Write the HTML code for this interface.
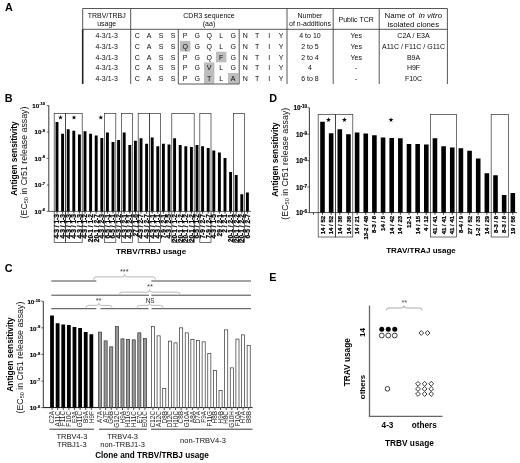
<!DOCTYPE html>
<html lang="en">
<head>
<meta charset="utf-8">
<title>Figure</title>
<style>
html,body{margin:0;padding:0;background:#fff;}
body{width:520px;height:463px;overflow:hidden;}
svg{display:block;font-family:"Liberation Sans", sans-serif;filter:blur(0.3px);}
</style>
</head>
<body>
<svg width="520" height="463" viewBox="0 0 520 463">
<rect x="0" y="0" width="520" height="463" fill="#fff"/>
<text x="4.9" y="10.8" font-size="10.8" font-weight="bold" text-anchor="start" fill="#000">A</text>
<text x="4.8" y="101.6" font-size="10.8" font-weight="bold" text-anchor="start" fill="#000">B</text>
<text x="4.7" y="271.5" font-size="10.8" font-weight="bold" text-anchor="start" fill="#000">C</text>
<text x="269.2" y="101.6" font-size="10.8" font-weight="bold" text-anchor="start" fill="#000">D</text>
<text x="269.2" y="280.9" font-size="10.8" font-weight="bold" text-anchor="start" fill="#000">E</text>
<line x1="82.7" y1="8.5" x2="447.4" y2="8.5" stroke="#444" stroke-width="0.9"/>
<line x1="82.7" y1="29.3" x2="447.4" y2="29.3" stroke="#444" stroke-width="0.9"/>
<line x1="82.7" y1="8.5" x2="82.7" y2="29.3" stroke="#444" stroke-width="0.9"/>
<line x1="82.7" y1="29.3" x2="82.7" y2="84" stroke="#222" stroke-width="1.6"/>
<line x1="447.4" y1="8.5" x2="447.4" y2="84" stroke="#444" stroke-width="0.9"/>
<line x1="130.7" y1="8.5" x2="130.7" y2="84" stroke="#444" stroke-width="0.9"/>
<line x1="287" y1="8.5" x2="287" y2="84" stroke="#444" stroke-width="0.9"/>
<line x1="333.2" y1="8.5" x2="333.2" y2="84" stroke="#444" stroke-width="0.9"/>
<line x1="379.2" y1="8.5" x2="379.2" y2="84" stroke="#444" stroke-width="0.9"/>
<text x="106.7" y="18" font-size="7" text-anchor="middle" fill="#0a0a0a">TRBV/TRBJ</text>
<text x="106.7" y="26.3" font-size="7" text-anchor="middle" fill="#0a0a0a">usage</text>
<text x="209" y="18" font-size="7" text-anchor="middle" fill="#0a0a0a">CDR3 sequence</text>
<text x="209" y="26.3" font-size="7" text-anchor="middle" fill="#0a0a0a">(aa)</text>
<text x="310" y="18" font-size="7" text-anchor="middle" fill="#0a0a0a">Number</text>
<text x="310" y="26.3" font-size="7" text-anchor="middle" fill="#0a0a0a">of n-additions</text>
<text x="356.2" y="21.5" font-size="7" text-anchor="middle" fill="#0a0a0a">Public TCR</text>
<text x="413.3" y="18" font-size="7.9" text-anchor="middle" fill="#0a0a0a" xml:space="preserve">Name of  <tspan font-style="italic">in vitro</tspan></text>
<text x="413.3" y="26.5" font-size="7.8" text-anchor="middle" fill="#0a0a0a">isolated clones</text>
<rect x="180.00" y="40.90" width="10.40" height="10.70" fill="#bdbdbd" stroke="none" stroke-width="0.7"/>
<rect x="216.00" y="51.70" width="10.40" height="10.70" fill="#bdbdbd" stroke="none" stroke-width="0.7"/>
<rect x="204.00" y="62.40" width="10.40" height="10.70" fill="#bdbdbd" stroke="none" stroke-width="0.7"/>
<rect x="204.00" y="73.00" width="10.40" height="10.70" fill="#bdbdbd" stroke="none" stroke-width="0.7"/>
<rect x="228.00" y="73.00" width="10.40" height="10.70" fill="#bdbdbd" stroke="none" stroke-width="0.7"/>
<line x1="178.3" y1="29.3" x2="178.3" y2="84" stroke="#444" stroke-width="0.9"/>
<line x1="239.2" y1="29.3" x2="239.2" y2="84" stroke="#444" stroke-width="0.9"/>
<line x1="178.3" y1="84" x2="239.2" y2="84" stroke="#444" stroke-width="0.9"/>
<text x="106.7" y="38.0" font-size="7" text-anchor="middle" fill="#0a0a0a">4-3/1-3</text>
<text x="137.2" y="38.0" font-size="7" text-anchor="middle" fill="#0a0a0a">C</text>
<text x="149.2" y="38.0" font-size="7" text-anchor="middle" fill="#0a0a0a">A</text>
<text x="161.2" y="38.0" font-size="7" text-anchor="middle" fill="#0a0a0a">S</text>
<text x="173.2" y="38.0" font-size="7" text-anchor="middle" fill="#0a0a0a">S</text>
<text x="185.2" y="38.0" font-size="7" text-anchor="middle" fill="#0a0a0a">P</text>
<text x="197.2" y="38.0" font-size="7" text-anchor="middle" fill="#0a0a0a">G</text>
<text x="209.2" y="38.0" font-size="7" text-anchor="middle" fill="#0a0a0a">Q</text>
<text x="221.2" y="38.0" font-size="7" text-anchor="middle" fill="#0a0a0a">L</text>
<text x="233.2" y="38.0" font-size="7" text-anchor="middle" fill="#0a0a0a">G</text>
<text x="245.2" y="38.0" font-size="7" text-anchor="middle" fill="#0a0a0a">N</text>
<text x="257.2" y="38.0" font-size="7" text-anchor="middle" fill="#0a0a0a">T</text>
<text x="269.2" y="38.0" font-size="7" text-anchor="middle" fill="#0a0a0a">I</text>
<text x="281.2" y="38.0" font-size="7" text-anchor="middle" fill="#0a0a0a">Y</text>
<text x="310" y="38.0" font-size="7" text-anchor="middle" fill="#0a0a0a">4 to 10</text>
<text x="356.2" y="38.0" font-size="7" text-anchor="middle" fill="#0a0a0a">Yes</text>
<text x="413.5" y="38.0" font-size="7" text-anchor="middle" fill="#0a0a0a">C2A / E3A</text>
<text x="106.7" y="48.7" font-size="7" text-anchor="middle" fill="#0a0a0a">4-3/1-3</text>
<text x="137.2" y="48.7" font-size="7" text-anchor="middle" fill="#0a0a0a">C</text>
<text x="149.2" y="48.7" font-size="7" text-anchor="middle" fill="#0a0a0a">A</text>
<text x="161.2" y="48.7" font-size="7" text-anchor="middle" fill="#0a0a0a">S</text>
<text x="173.2" y="48.7" font-size="7" text-anchor="middle" fill="#0a0a0a">S</text>
<text x="185.2" y="48.7" font-size="7" text-anchor="middle" fill="#0a0a0a">Q</text>
<text x="197.2" y="48.7" font-size="7" text-anchor="middle" fill="#0a0a0a">G</text>
<text x="209.2" y="48.7" font-size="7" text-anchor="middle" fill="#0a0a0a">Q</text>
<text x="221.2" y="48.7" font-size="7" text-anchor="middle" fill="#0a0a0a">L</text>
<text x="233.2" y="48.7" font-size="7" text-anchor="middle" fill="#0a0a0a">G</text>
<text x="245.2" y="48.7" font-size="7" text-anchor="middle" fill="#0a0a0a">N</text>
<text x="257.2" y="48.7" font-size="7" text-anchor="middle" fill="#0a0a0a">T</text>
<text x="269.2" y="48.7" font-size="7" text-anchor="middle" fill="#0a0a0a">I</text>
<text x="281.2" y="48.7" font-size="7" text-anchor="middle" fill="#0a0a0a">Y</text>
<text x="310" y="48.7" font-size="7" text-anchor="middle" fill="#0a0a0a">2 to 5</text>
<text x="356.2" y="48.7" font-size="7" text-anchor="middle" fill="#0a0a0a">Yes</text>
<text x="413.5" y="48.7" font-size="7" text-anchor="middle" fill="#0a0a0a">A11C / F11C / G11C</text>
<text x="106.7" y="59.5" font-size="7" text-anchor="middle" fill="#0a0a0a">4-3/1-3</text>
<text x="137.2" y="59.5" font-size="7" text-anchor="middle" fill="#0a0a0a">C</text>
<text x="149.2" y="59.5" font-size="7" text-anchor="middle" fill="#0a0a0a">A</text>
<text x="161.2" y="59.5" font-size="7" text-anchor="middle" fill="#0a0a0a">S</text>
<text x="173.2" y="59.5" font-size="7" text-anchor="middle" fill="#0a0a0a">S</text>
<text x="185.2" y="59.5" font-size="7" text-anchor="middle" fill="#0a0a0a">P</text>
<text x="197.2" y="59.5" font-size="7" text-anchor="middle" fill="#0a0a0a">G</text>
<text x="209.2" y="59.5" font-size="7" text-anchor="middle" fill="#0a0a0a">Q</text>
<text x="221.2" y="59.5" font-size="7" text-anchor="middle" fill="#0a0a0a">F</text>
<text x="233.2" y="59.5" font-size="7" text-anchor="middle" fill="#0a0a0a">G</text>
<text x="245.2" y="59.5" font-size="7" text-anchor="middle" fill="#0a0a0a">N</text>
<text x="257.2" y="59.5" font-size="7" text-anchor="middle" fill="#0a0a0a">T</text>
<text x="269.2" y="59.5" font-size="7" text-anchor="middle" fill="#0a0a0a">I</text>
<text x="281.2" y="59.5" font-size="7" text-anchor="middle" fill="#0a0a0a">Y</text>
<text x="310" y="59.5" font-size="7" text-anchor="middle" fill="#0a0a0a">2 to 4</text>
<text x="356.2" y="59.5" font-size="7" text-anchor="middle" fill="#0a0a0a">Yes</text>
<text x="413.5" y="59.5" font-size="7" text-anchor="middle" fill="#0a0a0a">B9A</text>
<text x="106.7" y="70.2" font-size="7" text-anchor="middle" fill="#0a0a0a">4-3/1-3</text>
<text x="137.2" y="70.2" font-size="7" text-anchor="middle" fill="#0a0a0a">C</text>
<text x="149.2" y="70.2" font-size="7" text-anchor="middle" fill="#0a0a0a">A</text>
<text x="161.2" y="70.2" font-size="7" text-anchor="middle" fill="#0a0a0a">S</text>
<text x="173.2" y="70.2" font-size="7" text-anchor="middle" fill="#0a0a0a">S</text>
<text x="185.2" y="70.2" font-size="7" text-anchor="middle" fill="#0a0a0a">P</text>
<text x="197.2" y="70.2" font-size="7" text-anchor="middle" fill="#0a0a0a">G</text>
<text x="209.2" y="70.2" font-size="7" text-anchor="middle" fill="#0a0a0a">V</text>
<text x="221.2" y="70.2" font-size="7" text-anchor="middle" fill="#0a0a0a">L</text>
<text x="233.2" y="70.2" font-size="7" text-anchor="middle" fill="#0a0a0a">G</text>
<text x="245.2" y="70.2" font-size="7" text-anchor="middle" fill="#0a0a0a">N</text>
<text x="257.2" y="70.2" font-size="7" text-anchor="middle" fill="#0a0a0a">T</text>
<text x="269.2" y="70.2" font-size="7" text-anchor="middle" fill="#0a0a0a">I</text>
<text x="281.2" y="70.2" font-size="7" text-anchor="middle" fill="#0a0a0a">Y</text>
<text x="310" y="70.2" font-size="7" text-anchor="middle" fill="#0a0a0a">4</text>
<text x="356.2" y="70.2" font-size="7" text-anchor="middle" fill="#0a0a0a">-</text>
<text x="413.5" y="70.2" font-size="7" text-anchor="middle" fill="#0a0a0a">H9F</text>
<text x="106.7" y="80.8" font-size="7" text-anchor="middle" fill="#0a0a0a">4-3/1-3</text>
<text x="137.2" y="80.8" font-size="7" text-anchor="middle" fill="#0a0a0a">C</text>
<text x="149.2" y="80.8" font-size="7" text-anchor="middle" fill="#0a0a0a">A</text>
<text x="161.2" y="80.8" font-size="7" text-anchor="middle" fill="#0a0a0a">S</text>
<text x="173.2" y="80.8" font-size="7" text-anchor="middle" fill="#0a0a0a">S</text>
<text x="185.2" y="80.8" font-size="7" text-anchor="middle" fill="#0a0a0a">P</text>
<text x="197.2" y="80.8" font-size="7" text-anchor="middle" fill="#0a0a0a">G</text>
<text x="209.2" y="80.8" font-size="7" text-anchor="middle" fill="#0a0a0a">T</text>
<text x="221.2" y="80.8" font-size="7" text-anchor="middle" fill="#0a0a0a">L</text>
<text x="233.2" y="80.8" font-size="7" text-anchor="middle" fill="#0a0a0a">A</text>
<text x="245.2" y="80.8" font-size="7" text-anchor="middle" fill="#0a0a0a">N</text>
<text x="257.2" y="80.8" font-size="7" text-anchor="middle" fill="#0a0a0a">T</text>
<text x="269.2" y="80.8" font-size="7" text-anchor="middle" fill="#0a0a0a">I</text>
<text x="281.2" y="80.8" font-size="7" text-anchor="middle" fill="#0a0a0a">Y</text>
<text x="310" y="80.8" font-size="7" text-anchor="middle" fill="#0a0a0a">6 to 8</text>
<text x="356.2" y="80.8" font-size="7" text-anchor="middle" fill="#0a0a0a">-</text>
<text x="413.5" y="80.8" font-size="7" text-anchor="middle" fill="#0a0a0a">F10C</text>
<text x="17.4" y="158.5" font-size="8.4" font-weight="bold" text-anchor="middle" fill="#000" transform="rotate(-90 17.4 158.5)">Antigen sensitivity</text>
<text x="27.4" y="162.5" font-size="8.8" text-anchor="middle" fill="#111" transform="rotate(-90 27.4 162.5)">(EC<tspan font-size="5.6" dy="1">50</tspan><tspan dy="-1"> in Cr51 release assay)</tspan></text>
<text x="45.1" y="107.73" font-size="6.2" font-weight="bold" text-anchor="end" fill="#000" stroke="#000" stroke-width="0.15">10<tspan font-size="4.1" dy="-2.4">-10</tspan></text>
<text x="45.1" y="134.23" font-size="6.2" font-weight="bold" text-anchor="end" fill="#000" stroke="#000" stroke-width="0.15">10<tspan font-size="4.1" dy="-2.4">-9</tspan></text>
<text x="45.1" y="160.63" font-size="6.2" font-weight="bold" text-anchor="end" fill="#000" stroke="#000" stroke-width="0.15">10<tspan font-size="4.1" dy="-2.4">-8</tspan></text>
<text x="45.1" y="187.23" font-size="6.2" font-weight="bold" text-anchor="end" fill="#000" stroke="#000" stroke-width="0.15">10<tspan font-size="4.1" dy="-2.4">-7</tspan></text>
<text x="45.1" y="213.63" font-size="6.2" font-weight="bold" text-anchor="end" fill="#000" stroke="#000" stroke-width="0.15">10<tspan font-size="4.1" dy="-2.4">-6</tspan></text>
<line x1="48.8" y1="105.5" x2="48.8" y2="211.4" stroke="#222" stroke-width="0.9"/>
<line x1="48.8" y1="211.4" x2="251" y2="211.4" stroke="#222" stroke-width="0.7"/>
<line x1="46.8" y1="105.5" x2="48.8" y2="105.5" stroke="#222" stroke-width="0.7"/>
<line x1="46.8" y1="132" x2="48.8" y2="132" stroke="#222" stroke-width="0.7"/>
<line x1="46.8" y1="158.4" x2="48.8" y2="158.4" stroke="#222" stroke-width="0.7"/>
<line x1="46.8" y1="185" x2="48.8" y2="185" stroke="#222" stroke-width="0.7"/>
<line x1="46.8" y1="211.4" x2="48.8" y2="211.4" stroke="#222" stroke-width="0.7"/>
<rect x="54.20" y="113.60" width="11.20" height="128.90" fill="none" stroke="#333" stroke-width="0.7"/>
<rect x="65.40" y="113.60" width="16.80" height="128.90" fill="none" stroke="#333" stroke-width="0.7"/>
<rect x="104.60" y="113.60" width="11.20" height="128.90" fill="none" stroke="#333" stroke-width="0.7"/>
<rect x="121.40" y="113.60" width="11.20" height="128.90" fill="none" stroke="#333" stroke-width="0.7"/>
<rect x="138.20" y="113.60" width="11.20" height="128.90" fill="none" stroke="#333" stroke-width="0.7"/>
<rect x="149.40" y="113.60" width="11.20" height="128.90" fill="none" stroke="#333" stroke-width="0.7"/>
<rect x="171.80" y="113.60" width="22.40" height="128.90" fill="none" stroke="#333" stroke-width="0.7"/>
<rect x="199.80" y="113.60" width="11.20" height="128.90" fill="none" stroke="#333" stroke-width="0.7"/>
<rect x="233.40" y="113.60" width="11.20" height="128.90" fill="none" stroke="#333" stroke-width="0.7"/>
<rect x="55.55" y="122.00" width="2.90" height="89.40" fill="#000" stroke="none" stroke-width="0.7"/>
<rect x="61.15" y="133.75" width="2.90" height="77.65" fill="#000" stroke="none" stroke-width="0.7"/>
<rect x="66.75" y="129.25" width="2.90" height="82.15" fill="#000" stroke="none" stroke-width="0.7"/>
<rect x="72.35" y="130.75" width="2.90" height="80.65" fill="#000" stroke="none" stroke-width="0.7"/>
<rect x="77.95" y="134.50" width="2.90" height="76.90" fill="#000" stroke="none" stroke-width="0.7"/>
<rect x="83.55" y="131.25" width="2.90" height="80.15" fill="#000" stroke="none" stroke-width="0.7"/>
<rect x="89.15" y="133.75" width="2.90" height="77.65" fill="#000" stroke="none" stroke-width="0.7"/>
<rect x="94.75" y="135.50" width="2.90" height="75.90" fill="#000" stroke="none" stroke-width="0.7"/>
<rect x="100.35" y="138.00" width="2.90" height="73.40" fill="#000" stroke="none" stroke-width="0.7"/>
<rect x="105.95" y="132.50" width="2.90" height="78.90" fill="#000" stroke="none" stroke-width="0.7"/>
<rect x="111.55" y="142.00" width="2.90" height="69.40" fill="#000" stroke="none" stroke-width="0.7"/>
<rect x="117.15" y="140.00" width="2.90" height="71.40" fill="#000" stroke="none" stroke-width="0.7"/>
<rect x="122.75" y="132.50" width="2.90" height="78.90" fill="#000" stroke="none" stroke-width="0.7"/>
<rect x="128.35" y="145.00" width="2.90" height="66.40" fill="#000" stroke="none" stroke-width="0.7"/>
<rect x="133.95" y="140.75" width="2.90" height="70.65" fill="#000" stroke="none" stroke-width="0.7"/>
<rect x="139.55" y="138.25" width="2.90" height="73.15" fill="#000" stroke="none" stroke-width="0.7"/>
<rect x="145.15" y="143.75" width="2.90" height="67.65" fill="#000" stroke="none" stroke-width="0.7"/>
<rect x="150.75" y="137.50" width="2.90" height="73.90" fill="#000" stroke="none" stroke-width="0.7"/>
<rect x="156.35" y="146.25" width="2.90" height="65.15" fill="#000" stroke="none" stroke-width="0.7"/>
<rect x="161.95" y="143.75" width="2.90" height="67.65" fill="#000" stroke="none" stroke-width="0.7"/>
<rect x="167.55" y="144.50" width="2.90" height="66.90" fill="#000" stroke="none" stroke-width="0.7"/>
<rect x="173.15" y="138.25" width="2.90" height="73.15" fill="#000" stroke="none" stroke-width="0.7"/>
<rect x="178.75" y="145.00" width="2.90" height="66.40" fill="#000" stroke="none" stroke-width="0.7"/>
<rect x="184.35" y="146.25" width="2.90" height="65.15" fill="#000" stroke="none" stroke-width="0.7"/>
<rect x="189.95" y="147.00" width="2.90" height="64.40" fill="#000" stroke="none" stroke-width="0.7"/>
<rect x="195.55" y="145.00" width="2.90" height="66.40" fill="#000" stroke="none" stroke-width="0.7"/>
<rect x="201.15" y="146.25" width="2.90" height="65.15" fill="#000" stroke="none" stroke-width="0.7"/>
<rect x="206.75" y="148.00" width="2.90" height="63.40" fill="#000" stroke="none" stroke-width="0.7"/>
<rect x="212.35" y="150.50" width="2.90" height="60.90" fill="#000" stroke="none" stroke-width="0.7"/>
<rect x="217.95" y="152.50" width="2.90" height="58.90" fill="#000" stroke="none" stroke-width="0.7"/>
<rect x="223.55" y="158.00" width="2.90" height="53.40" fill="#000" stroke="none" stroke-width="0.7"/>
<rect x="229.15" y="172.00" width="2.90" height="39.40" fill="#000" stroke="none" stroke-width="0.7"/>
<rect x="234.75" y="175.00" width="2.90" height="36.40" fill="#000" stroke="none" stroke-width="0.7"/>
<rect x="240.35" y="194.25" width="2.90" height="17.15" fill="#000" stroke="none" stroke-width="0.7"/>
<rect x="245.95" y="192.50" width="2.90" height="18.90" fill="#000" stroke="none" stroke-width="0.7"/>
<line x1="57.0" y1="211.4" x2="57.0" y2="213.6" stroke="#111" stroke-width="0.8"/>
<text x="59.35" y="214.0" font-size="6.6" font-weight="bold" text-anchor="end" fill="#000" transform="rotate(-90 59.35 214.0)" stroke="#000" stroke-width="0.25">4-3 / 1-3</text>
<line x1="62.6" y1="211.4" x2="62.6" y2="213.6" stroke="#111" stroke-width="0.8"/>
<text x="64.95" y="214.0" font-size="6.6" font-weight="bold" text-anchor="end" fill="#000" transform="rotate(-90 64.95 214.0)" stroke="#000" stroke-width="0.25">4-3 / 1-3</text>
<line x1="68.2" y1="211.4" x2="68.2" y2="213.6" stroke="#111" stroke-width="0.8"/>
<text x="70.55" y="214.0" font-size="6.6" font-weight="bold" text-anchor="end" fill="#000" transform="rotate(-90 70.55 214.0)" stroke="#000" stroke-width="0.25">4-3 / 1-3</text>
<line x1="73.8" y1="211.4" x2="73.8" y2="213.6" stroke="#111" stroke-width="0.8"/>
<text x="76.15" y="214.0" font-size="6.6" font-weight="bold" text-anchor="end" fill="#000" transform="rotate(-90 76.15 214.0)" stroke="#000" stroke-width="0.25">4-3 / 1-3</text>
<line x1="79.4" y1="211.4" x2="79.4" y2="213.6" stroke="#111" stroke-width="0.8"/>
<text x="81.75" y="214.0" font-size="6.6" font-weight="bold" text-anchor="end" fill="#000" transform="rotate(-90 81.75 214.0)" stroke="#000" stroke-width="0.25">4-3 / 1-3</text>
<line x1="85.0" y1="211.4" x2="85.0" y2="213.6" stroke="#111" stroke-width="0.8"/>
<text x="87.35" y="214.0" font-size="6.6" font-weight="bold" text-anchor="end" fill="#000" transform="rotate(-90 87.35 214.0)" stroke="#000" stroke-width="0.25">4-3 / 1-2</text>
<line x1="90.6" y1="211.4" x2="90.6" y2="213.6" stroke="#111" stroke-width="0.8"/>
<text x="92.95" y="214.0" font-size="6.6" font-weight="bold" text-anchor="end" fill="#000" transform="rotate(-90 92.95 214.0)" stroke="#000" stroke-width="0.25">20-1 / 1-2</text>
<line x1="96.2" y1="211.4" x2="96.2" y2="213.6" stroke="#111" stroke-width="0.8"/>
<text x="98.55" y="214.0" font-size="6.6" font-weight="bold" text-anchor="end" fill="#000" transform="rotate(-90 98.55 214.0)" stroke="#000" stroke-width="0.25">20-1 / 2-7</text>
<line x1="101.8" y1="211.4" x2="101.8" y2="213.6" stroke="#111" stroke-width="0.8"/>
<text x="104.15" y="214.0" font-size="6.6" font-weight="bold" text-anchor="end" fill="#000" transform="rotate(-90 104.15 214.0)" stroke="#000" stroke-width="0.25">4-3 / 2-3</text>
<line x1="107.4" y1="211.4" x2="107.4" y2="213.6" stroke="#111" stroke-width="0.8"/>
<text x="109.75" y="214.0" font-size="6.6" font-weight="bold" text-anchor="end" fill="#000" transform="rotate(-90 109.75 214.0)" stroke="#000" stroke-width="0.25">6-5 / 1-1</text>
<line x1="113.0" y1="211.4" x2="113.0" y2="213.6" stroke="#111" stroke-width="0.8"/>
<text x="115.35" y="214.0" font-size="6.6" font-weight="bold" text-anchor="end" fill="#000" transform="rotate(-90 115.35 214.0)" stroke="#000" stroke-width="0.25">6-5 / 1-1</text>
<line x1="118.6" y1="211.4" x2="118.6" y2="213.6" stroke="#111" stroke-width="0.8"/>
<text x="120.95" y="214.0" font-size="6.6" font-weight="bold" text-anchor="end" fill="#000" transform="rotate(-90 120.95 214.0)" stroke="#000" stroke-width="0.25">4-3 / 1-2</text>
<line x1="124.2" y1="211.4" x2="124.2" y2="213.6" stroke="#111" stroke-width="0.8"/>
<text x="126.55" y="214.0" font-size="6.6" font-weight="bold" text-anchor="end" fill="#000" transform="rotate(-90 126.55 214.0)" stroke="#000" stroke-width="0.25">4-3 / 2-1</text>
<line x1="129.8" y1="211.4" x2="129.8" y2="213.6" stroke="#111" stroke-width="0.8"/>
<text x="132.15" y="214.0" font-size="6.6" font-weight="bold" text-anchor="end" fill="#000" transform="rotate(-90 132.15 214.0)" stroke="#000" stroke-width="0.25">4-3 / 2-1</text>
<line x1="135.4" y1="211.4" x2="135.4" y2="213.6" stroke="#111" stroke-width="0.8"/>
<text x="137.75" y="214.0" font-size="6.6" font-weight="bold" text-anchor="end" fill="#000" transform="rotate(-90 137.75 214.0)" stroke="#000" stroke-width="0.25">27 / 1-6</text>
<line x1="141.0" y1="211.4" x2="141.0" y2="213.6" stroke="#111" stroke-width="0.8"/>
<text x="143.35" y="214.0" font-size="6.6" font-weight="bold" text-anchor="end" fill="#000" transform="rotate(-90 143.35 214.0)" stroke="#000" stroke-width="0.25">4-3 / 2-7</text>
<line x1="146.6" y1="211.4" x2="146.6" y2="213.6" stroke="#111" stroke-width="0.8"/>
<text x="148.95" y="214.0" font-size="6.6" font-weight="bold" text-anchor="end" fill="#000" transform="rotate(-90 148.95 214.0)" stroke="#000" stroke-width="0.25">4-3 / 2-7</text>
<line x1="152.2" y1="211.4" x2="152.2" y2="213.6" stroke="#111" stroke-width="0.8"/>
<text x="154.55" y="214.0" font-size="6.6" font-weight="bold" text-anchor="end" fill="#000" transform="rotate(-90 154.55 214.0)" stroke="#000" stroke-width="0.25">4-3 / 1-1</text>
<line x1="157.8" y1="211.4" x2="157.8" y2="213.6" stroke="#111" stroke-width="0.8"/>
<text x="160.15" y="214.0" font-size="6.6" font-weight="bold" text-anchor="end" fill="#000" transform="rotate(-90 160.15 214.0)" stroke="#000" stroke-width="0.25">4-3 / 1-1</text>
<line x1="163.4" y1="211.4" x2="163.4" y2="213.6" stroke="#111" stroke-width="0.8"/>
<text x="165.75" y="214.0" font-size="6.6" font-weight="bold" text-anchor="end" fill="#000" transform="rotate(-90 165.75 214.0)" stroke="#000" stroke-width="0.25">7-9 / 2-1</text>
<line x1="169.0" y1="211.4" x2="169.0" y2="213.6" stroke="#111" stroke-width="0.8"/>
<text x="171.35" y="214.0" font-size="6.6" font-weight="bold" text-anchor="end" fill="#000" transform="rotate(-90 171.35 214.0)" stroke="#000" stroke-width="0.25">4-3 / 2-5</text>
<line x1="174.6" y1="211.4" x2="174.6" y2="213.6" stroke="#111" stroke-width="0.8"/>
<text x="176.95" y="214.0" font-size="6.6" font-weight="bold" text-anchor="end" fill="#000" transform="rotate(-90 176.95 214.0)" stroke="#000" stroke-width="0.25">20-1 / 1-2</text>
<line x1="180.2" y1="211.4" x2="180.2" y2="213.6" stroke="#111" stroke-width="0.8"/>
<text x="182.55" y="214.0" font-size="6.6" font-weight="bold" text-anchor="end" fill="#000" transform="rotate(-90 182.55 214.0)" stroke="#000" stroke-width="0.25">20-1 / 1-2</text>
<line x1="185.8" y1="211.4" x2="185.8" y2="213.6" stroke="#111" stroke-width="0.8"/>
<text x="188.15" y="214.0" font-size="6.6" font-weight="bold" text-anchor="end" fill="#000" transform="rotate(-90 188.15 214.0)" stroke="#000" stroke-width="0.25">20-1 / 1-2</text>
<line x1="191.4" y1="211.4" x2="191.4" y2="213.6" stroke="#111" stroke-width="0.8"/>
<text x="193.75" y="214.0" font-size="6.6" font-weight="bold" text-anchor="end" fill="#000" transform="rotate(-90 193.75 214.0)" stroke="#000" stroke-width="0.25">20-1 / 1-2</text>
<line x1="197.0" y1="211.4" x2="197.0" y2="213.6" stroke="#111" stroke-width="0.8"/>
<text x="199.35" y="214.0" font-size="6.6" font-weight="bold" text-anchor="end" fill="#000" transform="rotate(-90 199.35 214.0)" stroke="#000" stroke-width="0.25">6-5 / 1-2</text>
<line x1="202.6" y1="211.4" x2="202.6" y2="213.6" stroke="#111" stroke-width="0.8"/>
<text x="204.95" y="214.0" font-size="6.6" font-weight="bold" text-anchor="end" fill="#000" transform="rotate(-90 204.95 214.0)" stroke="#000" stroke-width="0.25">7-9 / 2-7</text>
<line x1="208.2" y1="211.4" x2="208.2" y2="213.6" stroke="#111" stroke-width="0.8"/>
<text x="210.55" y="214.0" font-size="6.6" font-weight="bold" text-anchor="end" fill="#000" transform="rotate(-90 210.55 214.0)" stroke="#000" stroke-width="0.25">7-9 / 2-7</text>
<line x1="213.8" y1="211.4" x2="213.8" y2="213.6" stroke="#111" stroke-width="0.8"/>
<text x="216.15" y="214.0" font-size="6.6" font-weight="bold" text-anchor="end" fill="#000" transform="rotate(-90 216.15 214.0)" stroke="#000" stroke-width="0.25">4-3 / 1-5</text>
<line x1="219.4" y1="211.4" x2="219.4" y2="213.6" stroke="#111" stroke-width="0.8"/>
<text x="221.75" y="214.0" font-size="6.6" font-weight="bold" text-anchor="end" fill="#000" transform="rotate(-90 221.75 214.0)" stroke="#000" stroke-width="0.25">29 / 2-1</text>
<line x1="225.0" y1="211.4" x2="225.0" y2="213.6" stroke="#111" stroke-width="0.8"/>
<text x="227.35" y="214.0" font-size="6.6" font-weight="bold" text-anchor="end" fill="#000" transform="rotate(-90 227.35 214.0)" stroke="#000" stroke-width="0.25">2 / 2-1</text>
<line x1="230.6" y1="211.4" x2="230.6" y2="213.6" stroke="#111" stroke-width="0.8"/>
<text x="232.95" y="214.0" font-size="6.6" font-weight="bold" text-anchor="end" fill="#000" transform="rotate(-90 232.95 214.0)" stroke="#000" stroke-width="0.25">20-1 / 2-1</text>
<line x1="236.2" y1="211.4" x2="236.2" y2="213.6" stroke="#111" stroke-width="0.8"/>
<text x="238.55" y="214.0" font-size="6.6" font-weight="bold" text-anchor="end" fill="#000" transform="rotate(-90 238.55 214.0)" stroke="#000" stroke-width="0.25">20-1 / 2-2</text>
<line x1="241.8" y1="211.4" x2="241.8" y2="213.6" stroke="#111" stroke-width="0.8"/>
<text x="244.15" y="214.0" font-size="6.6" font-weight="bold" text-anchor="end" fill="#000" transform="rotate(-90 244.15 214.0)" stroke="#000" stroke-width="0.25">20-1 / 2-2</text>
<line x1="247.4" y1="211.4" x2="247.4" y2="213.6" stroke="#111" stroke-width="0.8"/>
<text x="249.75" y="214.0" font-size="6.6" font-weight="bold" text-anchor="end" fill="#000" transform="rotate(-90 249.75 214.0)" stroke="#000" stroke-width="0.25">6-5 / 2-7</text>
<polygon points="60.50,114.95 61.09,116.69 62.93,116.71 61.45,117.81 62.00,119.56 60.50,118.50 59.00,119.56 59.55,117.81 58.07,116.71 59.91,116.69" fill="#000"/>
<polygon points="74.00,114.95 74.59,116.69 76.43,116.71 74.95,117.81 75.50,119.56 74.00,118.50 72.50,119.56 73.05,117.81 71.57,116.71 73.41,116.69" fill="#000"/>
<polygon points="100.80,114.95 101.39,116.69 103.23,116.71 101.75,117.81 102.30,119.56 100.80,118.50 99.30,119.56 99.85,117.81 98.37,116.71 100.21,116.69" fill="#000"/>
<text x="151" y="254" font-size="8" font-weight="bold" text-anchor="middle" fill="#000">TRBV/TRBJ usage</text>
<text x="278" y="159.5" font-size="8.4" font-weight="bold" text-anchor="middle" fill="#000" transform="rotate(-90 278 159.5)">Antigen sensitivity</text>
<text x="288.1" y="163.7" font-size="8.8" text-anchor="middle" fill="#111" transform="rotate(-90 288.1 163.7)">(EC<tspan font-size="5.6" dy="1">50</tspan><tspan dy="-1"> in Cr51 release assay)</tspan></text>
<text x="307.1" y="110.47" font-size="6.3" font-weight="bold" text-anchor="end" fill="#000" stroke="#000" stroke-width="0.15">10<tspan font-size="4.6" dy="-2.1">-10</tspan></text>
<text x="307.1" y="136.97" font-size="6.3" font-weight="bold" text-anchor="end" fill="#000" stroke="#000" stroke-width="0.15">10<tspan font-size="4.6" dy="-2.1">-9</tspan></text>
<text x="307.1" y="163.37" font-size="6.3" font-weight="bold" text-anchor="end" fill="#000" stroke="#000" stroke-width="0.15">10<tspan font-size="4.6" dy="-2.1">-8</tspan></text>
<text x="307.1" y="189.77" font-size="6.3" font-weight="bold" text-anchor="end" fill="#000" stroke="#000" stroke-width="0.15">10<tspan font-size="4.6" dy="-2.1">-7</tspan></text>
<text x="307.1" y="215.37" font-size="6.3" font-weight="bold" text-anchor="end" fill="#000" stroke="#000" stroke-width="0.15">10<tspan font-size="4.6" dy="-2.1">-6</tspan></text>
<line x1="309.4" y1="107.7" x2="309.4" y2="212.6" stroke="#222" stroke-width="0.9"/>
<line x1="309.4" y1="212.6" x2="517" y2="212.6" stroke="#222" stroke-width="0.8"/>
<line x1="313.5" y1="212.6" x2="313.5" y2="214.79999999999998" stroke="#222" stroke-width="0.8"/>
<line x1="307.4" y1="107.7" x2="309.4" y2="107.7" stroke="#222" stroke-width="0.7"/>
<line x1="307.4" y1="134.2" x2="309.4" y2="134.2" stroke="#222" stroke-width="0.7"/>
<line x1="307.4" y1="160.6" x2="309.4" y2="160.6" stroke="#222" stroke-width="0.7"/>
<line x1="307.4" y1="187" x2="309.4" y2="187" stroke="#222" stroke-width="0.7"/>
<line x1="307.4" y1="212.6" x2="309.4" y2="212.6" stroke="#222" stroke-width="0.7"/>
<rect x="318.18" y="114.50" width="17.30" height="122.50" fill="none" stroke="#333" stroke-width="0.7"/>
<rect x="335.48" y="114.50" width="17.30" height="122.50" fill="none" stroke="#333" stroke-width="0.7"/>
<rect x="430.62" y="114.50" width="25.95" height="122.50" fill="none" stroke="#333" stroke-width="0.7"/>
<rect x="491.18" y="114.50" width="17.30" height="122.50" fill="none" stroke="#333" stroke-width="0.7"/>
<rect x="320.20" y="121.75" width="4.60" height="90.85" fill="#000" stroke="none" stroke-width="0.7"/>
<rect x="328.85" y="133.25" width="4.60" height="79.35" fill="#000" stroke="none" stroke-width="0.7"/>
<rect x="337.50" y="129.25" width="4.60" height="83.35" fill="#000" stroke="none" stroke-width="0.7"/>
<rect x="346.15" y="134.25" width="4.60" height="78.35" fill="#000" stroke="none" stroke-width="0.7"/>
<rect x="354.80" y="132.50" width="4.60" height="80.10" fill="#000" stroke="none" stroke-width="0.7"/>
<rect x="363.45" y="133.50" width="4.60" height="79.10" fill="#000" stroke="none" stroke-width="0.7"/>
<rect x="372.10" y="135.25" width="4.60" height="77.35" fill="#000" stroke="none" stroke-width="0.7"/>
<rect x="380.75" y="137.50" width="4.60" height="75.10" fill="#000" stroke="none" stroke-width="0.7"/>
<rect x="389.40" y="138.00" width="4.60" height="74.60" fill="#000" stroke="none" stroke-width="0.7"/>
<rect x="398.05" y="138.25" width="4.60" height="74.35" fill="#000" stroke="none" stroke-width="0.7"/>
<rect x="406.70" y="144.00" width="4.60" height="68.60" fill="#000" stroke="none" stroke-width="0.7"/>
<rect x="415.35" y="144.00" width="4.60" height="68.60" fill="#000" stroke="none" stroke-width="0.7"/>
<rect x="424.00" y="144.50" width="4.60" height="68.10" fill="#000" stroke="none" stroke-width="0.7"/>
<rect x="432.65" y="138.25" width="4.60" height="74.35" fill="#000" stroke="none" stroke-width="0.7"/>
<rect x="441.30" y="146.25" width="4.60" height="66.35" fill="#000" stroke="none" stroke-width="0.7"/>
<rect x="449.95" y="147.50" width="4.60" height="65.10" fill="#000" stroke="none" stroke-width="0.7"/>
<rect x="458.60" y="148.25" width="4.60" height="64.35" fill="#000" stroke="none" stroke-width="0.7"/>
<rect x="467.25" y="150.75" width="4.60" height="61.85" fill="#000" stroke="none" stroke-width="0.7"/>
<rect x="475.90" y="158.50" width="4.60" height="54.10" fill="#000" stroke="none" stroke-width="0.7"/>
<rect x="484.55" y="173.25" width="4.60" height="39.35" fill="#000" stroke="none" stroke-width="0.7"/>
<rect x="493.20" y="175.25" width="4.60" height="37.35" fill="#000" stroke="none" stroke-width="0.7"/>
<rect x="501.85" y="195.00" width="4.60" height="17.60" fill="#000" stroke="none" stroke-width="0.7"/>
<rect x="510.50" y="193.00" width="4.60" height="19.60" fill="#000" stroke="none" stroke-width="0.7"/>
<text x="324.6" y="215.9" font-size="6.0" font-weight="bold" text-anchor="end" fill="#000" transform="rotate(-90 324.6 215.9)" stroke="#000" stroke-width="0.25">14 / 52</text>
<line x1="322.5" y1="212.6" x2="322.5" y2="214.79999999999998" stroke="#111" stroke-width="0.8"/>
<text x="333.25" y="215.9" font-size="6.0" font-weight="bold" text-anchor="end" fill="#000" transform="rotate(-90 333.25 215.9)" stroke="#000" stroke-width="0.25">14 / 52</text>
<line x1="331.15" y1="212.6" x2="331.15" y2="214.79999999999998" stroke="#111" stroke-width="0.8"/>
<text x="341.9" y="215.9" font-size="6.0" font-weight="bold" text-anchor="end" fill="#000" transform="rotate(-90 341.9 215.9)" stroke="#000" stroke-width="0.25">14 / 36</text>
<line x1="339.8" y1="212.6" x2="339.8" y2="214.79999999999998" stroke="#111" stroke-width="0.8"/>
<text x="350.55" y="215.9" font-size="6.0" font-weight="bold" text-anchor="end" fill="#000" transform="rotate(-90 350.55 215.9)" stroke="#000" stroke-width="0.25">14 / 36</text>
<line x1="348.45" y1="212.6" x2="348.45" y2="214.79999999999998" stroke="#111" stroke-width="0.8"/>
<text x="359.2" y="215.9" font-size="6.0" font-weight="bold" text-anchor="end" fill="#000" transform="rotate(-90 359.2 215.9)" stroke="#000" stroke-width="0.25">14 / 21</text>
<line x1="357.1" y1="212.6" x2="357.1" y2="214.79999999999998" stroke="#111" stroke-width="0.8"/>
<text x="367.85" y="215.9" font-size="6.0" font-weight="bold" text-anchor="end" fill="#000" transform="rotate(-90 367.85 215.9)" stroke="#000" stroke-width="0.25">13-2 / 48</text>
<line x1="365.75" y1="212.6" x2="365.75" y2="214.79999999999998" stroke="#111" stroke-width="0.8"/>
<text x="376.5" y="215.9" font-size="6.0" font-weight="bold" text-anchor="end" fill="#000" transform="rotate(-90 376.5 215.9)" stroke="#000" stroke-width="0.25">8-3 / 8</text>
<line x1="374.4" y1="212.6" x2="374.4" y2="214.79999999999998" stroke="#111" stroke-width="0.8"/>
<text x="385.15" y="215.9" font-size="6.0" font-weight="bold" text-anchor="end" fill="#000" transform="rotate(-90 385.15 215.9)" stroke="#000" stroke-width="0.25">14 / 5</text>
<line x1="383.05" y1="212.6" x2="383.05" y2="214.79999999999998" stroke="#111" stroke-width="0.8"/>
<text x="393.8" y="215.9" font-size="6.0" font-weight="bold" text-anchor="end" fill="#000" transform="rotate(-90 393.8 215.9)" stroke="#000" stroke-width="0.25">14 / 42</text>
<line x1="391.7" y1="212.6" x2="391.7" y2="214.79999999999998" stroke="#111" stroke-width="0.8"/>
<text x="402.45" y="215.9" font-size="6.0" font-weight="bold" text-anchor="end" fill="#000" transform="rotate(-90 402.45 215.9)" stroke="#000" stroke-width="0.25">14 / 23</text>
<line x1="400.35" y1="212.6" x2="400.35" y2="214.79999999999998" stroke="#111" stroke-width="0.8"/>
<text x="411.1" y="215.9" font-size="6.0" font-weight="bold" text-anchor="end" fill="#000" transform="rotate(-90 411.1 215.9)" stroke="#000" stroke-width="0.25">12-1</text>
<line x1="409.0" y1="212.6" x2="409.0" y2="214.79999999999998" stroke="#111" stroke-width="0.8"/>
<text x="419.75" y="215.9" font-size="6.0" font-weight="bold" text-anchor="end" fill="#000" transform="rotate(-90 419.75 215.9)" stroke="#000" stroke-width="0.25">14 / 15</text>
<line x1="417.65" y1="212.6" x2="417.65" y2="214.79999999999998" stroke="#111" stroke-width="0.8"/>
<text x="428.4" y="215.9" font-size="6.0" font-weight="bold" text-anchor="end" fill="#000" transform="rotate(-90 428.4 215.9)" stroke="#000" stroke-width="0.25">4 / 12</text>
<line x1="426.3" y1="212.6" x2="426.3" y2="214.79999999999998" stroke="#111" stroke-width="0.8"/>
<text x="437.05" y="215.9" font-size="6.0" font-weight="bold" text-anchor="end" fill="#000" transform="rotate(-90 437.05 215.9)" stroke="#000" stroke-width="0.25">41 / 41</text>
<line x1="434.95" y1="212.6" x2="434.95" y2="214.79999999999998" stroke="#111" stroke-width="0.8"/>
<text x="445.7" y="215.9" font-size="6.0" font-weight="bold" text-anchor="end" fill="#000" transform="rotate(-90 445.7 215.9)" stroke="#000" stroke-width="0.25">41 / 41</text>
<line x1="443.6" y1="212.6" x2="443.6" y2="214.79999999999998" stroke="#111" stroke-width="0.8"/>
<text x="454.35" y="215.9" font-size="6.0" font-weight="bold" text-anchor="end" fill="#000" transform="rotate(-90 454.35 215.9)" stroke="#000" stroke-width="0.25">41 / 41</text>
<line x1="452.25" y1="212.6" x2="452.25" y2="214.79999999999998" stroke="#111" stroke-width="0.8"/>
<text x="463.0" y="215.9" font-size="6.0" font-weight="bold" text-anchor="end" fill="#000" transform="rotate(-90 463.0 215.9)" stroke="#000" stroke-width="0.25">8-4 / 9</text>
<line x1="460.9" y1="212.6" x2="460.9" y2="214.79999999999998" stroke="#111" stroke-width="0.8"/>
<text x="471.65" y="215.9" font-size="6.0" font-weight="bold" text-anchor="end" fill="#000" transform="rotate(-90 471.65 215.9)" stroke="#000" stroke-width="0.25">27 / 52</text>
<line x1="469.55" y1="212.6" x2="469.55" y2="214.79999999999998" stroke="#111" stroke-width="0.8"/>
<text x="480.3" y="215.9" font-size="6.0" font-weight="bold" text-anchor="end" fill="#000" transform="rotate(-90 480.3 215.9)" stroke="#000" stroke-width="0.25">1-2 / 33</text>
<line x1="478.2" y1="212.6" x2="478.2" y2="214.79999999999998" stroke="#111" stroke-width="0.8"/>
<text x="488.95" y="215.9" font-size="6.0" font-weight="bold" text-anchor="end" fill="#000" transform="rotate(-90 488.95 215.9)" stroke="#000" stroke-width="0.25">14 / 29</text>
<line x1="486.85" y1="212.6" x2="486.85" y2="214.79999999999998" stroke="#111" stroke-width="0.8"/>
<text x="497.6" y="215.9" font-size="6.0" font-weight="bold" text-anchor="end" fill="#000" transform="rotate(-90 497.6 215.9)" stroke="#000" stroke-width="0.25">8-3 / 8</text>
<line x1="495.5" y1="212.6" x2="495.5" y2="214.79999999999998" stroke="#111" stroke-width="0.8"/>
<text x="506.25" y="215.9" font-size="6.0" font-weight="bold" text-anchor="end" fill="#000" transform="rotate(-90 506.25 215.9)" stroke="#000" stroke-width="0.25">8-3 / 8</text>
<line x1="504.15" y1="212.6" x2="504.15" y2="214.79999999999998" stroke="#111" stroke-width="0.8"/>
<text x="514.9" y="215.9" font-size="6.0" font-weight="bold" text-anchor="end" fill="#000" transform="rotate(-90 514.9 215.9)" stroke="#000" stroke-width="0.25">19 / 56</text>
<line x1="512.8" y1="212.6" x2="512.8" y2="214.79999999999998" stroke="#111" stroke-width="0.8"/>
<polygon points="328.50,117.35 329.09,119.09 330.93,119.11 329.45,120.21 330.00,121.96 328.50,120.90 327.00,121.96 327.55,120.21 326.07,119.11 327.91,119.09" fill="#000"/>
<polygon points="344.40,117.35 344.99,119.09 346.83,119.11 345.35,120.21 345.90,121.96 344.40,120.90 342.90,121.96 343.45,120.21 341.97,119.11 343.81,119.09" fill="#000"/>
<polygon points="391.00,117.35 391.59,119.09 393.43,119.11 391.95,120.21 392.50,121.96 391.00,120.90 389.50,121.96 390.05,120.21 388.57,119.11 390.41,119.09" fill="#000"/>
<text x="421" y="253.3" font-size="8" font-weight="bold" text-anchor="middle" fill="#000">TRAV/TRAJ usage</text>
<text x="13.3" y="354.5" font-size="8.4" font-weight="bold" text-anchor="middle" fill="#000" transform="rotate(-90 13.3 354.5)">Antigen sensitivity</text>
<text x="23.3" y="357.6" font-size="8.8" text-anchor="middle" fill="#111" transform="rotate(-90 23.3 357.6)">(EC<tspan font-size="5.6" dy="1">50</tspan><tspan dy="-1"> in Cr51 release assay)</tspan></text>
<text x="40.2" y="303.93" font-size="6.2" font-weight="bold" text-anchor="end" fill="#000" stroke="#000" stroke-width="0.15">10<tspan font-size="4.1" dy="-2.4">-10</tspan></text>
<text x="40.2" y="330.53" font-size="6.2" font-weight="bold" text-anchor="end" fill="#000" stroke="#000" stroke-width="0.15">10<tspan font-size="4.1" dy="-2.4">-9</tspan></text>
<text x="40.2" y="357.13" font-size="6.2" font-weight="bold" text-anchor="end" fill="#000" stroke="#000" stroke-width="0.15">10<tspan font-size="4.1" dy="-2.4">-8</tspan></text>
<text x="40.2" y="383.73" font-size="6.2" font-weight="bold" text-anchor="end" fill="#000" stroke="#000" stroke-width="0.15">10<tspan font-size="4.1" dy="-2.4">-7</tspan></text>
<text x="40.2" y="410.33" font-size="6.2" font-weight="bold" text-anchor="end" fill="#000" stroke="#000" stroke-width="0.15">10<tspan font-size="4.1" dy="-2.4">-6</tspan></text>
<line x1="43.3" y1="301.2" x2="43.3" y2="407.6" stroke="#222" stroke-width="0.9"/>
<line x1="43.3" y1="407.6" x2="252.5" y2="407.6" stroke="#111" stroke-width="1.0"/>
<line x1="41.3" y1="301.2" x2="43.3" y2="301.2" stroke="#222" stroke-width="0.7"/>
<line x1="41.3" y1="327.8" x2="43.3" y2="327.8" stroke="#222" stroke-width="0.7"/>
<line x1="41.3" y1="354.4" x2="43.3" y2="354.4" stroke="#222" stroke-width="0.7"/>
<line x1="41.3" y1="381" x2="43.3" y2="381" stroke="#222" stroke-width="0.7"/>
<line x1="41.3" y1="407.6" x2="43.3" y2="407.6" stroke="#222" stroke-width="0.7"/>
<rect x="50.10" y="315.50" width="3.80" height="92.10" fill="#000" stroke="none" stroke-width="0.7"/>
<rect x="55.72" y="323.25" width="3.80" height="84.35" fill="#000" stroke="none" stroke-width="0.7"/>
<rect x="61.34" y="324.50" width="3.80" height="83.10" fill="#000" stroke="none" stroke-width="0.7"/>
<rect x="66.96" y="325.00" width="3.80" height="82.60" fill="#000" stroke="none" stroke-width="0.7"/>
<rect x="72.58" y="327.00" width="3.80" height="80.60" fill="#000" stroke="none" stroke-width="0.7"/>
<rect x="78.20" y="328.00" width="3.80" height="79.60" fill="#000" stroke="none" stroke-width="0.7"/>
<rect x="83.82" y="332.00" width="3.80" height="75.60" fill="#000" stroke="none" stroke-width="0.7"/>
<rect x="89.44" y="334.25" width="3.80" height="73.35" fill="#000" stroke="none" stroke-width="0.7"/>
<rect x="98.45" y="332.10" width="3.10" height="75.50" fill="#999" stroke="#333" stroke-width="0.7"/>
<rect x="104.07" y="340.85" width="3.10" height="66.75" fill="#999" stroke="#333" stroke-width="0.7"/>
<rect x="109.69" y="346.85" width="3.10" height="60.75" fill="#999" stroke="#333" stroke-width="0.7"/>
<rect x="115.31" y="326.60" width="3.10" height="81.00" fill="#999" stroke="#333" stroke-width="0.7"/>
<rect x="120.93" y="338.85" width="3.10" height="68.75" fill="#999" stroke="#333" stroke-width="0.7"/>
<rect x="126.55" y="339.65" width="3.10" height="67.95" fill="#999" stroke="#333" stroke-width="0.7"/>
<rect x="132.17" y="339.85" width="3.10" height="67.75" fill="#999" stroke="#333" stroke-width="0.7"/>
<rect x="137.79" y="332.85" width="3.10" height="74.75" fill="#999" stroke="#333" stroke-width="0.7"/>
<rect x="143.41" y="338.60" width="3.10" height="69.00" fill="#999" stroke="#333" stroke-width="0.7"/>
<rect x="151.45" y="326.60" width="3.10" height="81.00" fill="#fff" stroke="#333" stroke-width="0.7"/>
<rect x="157.08" y="335.85" width="3.10" height="71.75" fill="#fff" stroke="#333" stroke-width="0.7"/>
<rect x="162.71" y="388.35" width="3.10" height="19.25" fill="#fff" stroke="#333" stroke-width="0.7"/>
<rect x="168.34" y="341.15" width="3.10" height="66.45" fill="#fff" stroke="#333" stroke-width="0.7"/>
<rect x="173.97" y="342.85" width="3.10" height="64.75" fill="#fff" stroke="#333" stroke-width="0.7"/>
<rect x="179.60" y="327.85" width="3.10" height="79.75" fill="#fff" stroke="#333" stroke-width="0.7"/>
<rect x="185.23" y="332.85" width="3.10" height="74.75" fill="#fff" stroke="#333" stroke-width="0.7"/>
<rect x="190.86" y="339.60" width="3.10" height="68.00" fill="#fff" stroke="#333" stroke-width="0.7"/>
<rect x="196.49" y="340.35" width="3.10" height="67.25" fill="#fff" stroke="#333" stroke-width="0.7"/>
<rect x="202.12" y="341.85" width="3.10" height="65.75" fill="#fff" stroke="#333" stroke-width="0.7"/>
<rect x="207.75" y="353.35" width="3.10" height="54.25" fill="#fff" stroke="#333" stroke-width="0.7"/>
<rect x="213.38" y="370.35" width="3.10" height="37.25" fill="#fff" stroke="#333" stroke-width="0.7"/>
<rect x="219.01" y="390.35" width="3.10" height="17.25" fill="#fff" stroke="#333" stroke-width="0.7"/>
<rect x="224.64" y="329.85" width="3.10" height="77.75" fill="#fff" stroke="#333" stroke-width="0.7"/>
<rect x="230.27" y="367.85" width="3.10" height="39.75" fill="#fff" stroke="#333" stroke-width="0.7"/>
<rect x="235.90" y="339.10" width="3.10" height="68.50" fill="#fff" stroke="#333" stroke-width="0.7"/>
<rect x="241.53" y="334.85" width="3.10" height="72.75" fill="#fff" stroke="#333" stroke-width="0.7"/>
<rect x="247.16" y="345.35" width="3.10" height="62.25" fill="#fff" stroke="#333" stroke-width="0.7"/>
<text x="54.25" y="411.0" font-size="6.4" text-anchor="end" fill="#222" transform="rotate(-90 54.25 411.0)">C2A</text>
<text x="59.87" y="411.0" font-size="6.4" text-anchor="end" fill="#222" transform="rotate(-90 59.87 411.0)">A11C</text>
<text x="65.49" y="411.0" font-size="6.4" text-anchor="end" fill="#222" transform="rotate(-90 65.49 411.0)">F11C</text>
<text x="71.11" y="411.0" font-size="6.4" text-anchor="end" fill="#222" transform="rotate(-90 71.11 411.0)">F10C</text>
<text x="76.73" y="411.0" font-size="6.4" text-anchor="end" fill="#222" transform="rotate(-90 76.73 411.0)">E3A</text>
<text x="82.35" y="411.0" font-size="6.4" text-anchor="end" fill="#222" transform="rotate(-90 82.35 411.0)">G11C</text>
<text x="87.97" y="411.0" font-size="6.4" text-anchor="end" fill="#222" transform="rotate(-90 87.97 411.0)">B9A</text>
<text x="93.59" y="411.0" font-size="6.4" text-anchor="end" fill="#222" transform="rotate(-90 93.59 411.0)">H9F</text>
<text x="102.25" y="411.0" font-size="6.4" text-anchor="end" fill="#222" transform="rotate(-90 102.25 411.0)">A7A</text>
<text x="107.87" y="411.0" font-size="6.4" text-anchor="end" fill="#222" transform="rotate(-90 107.87 411.0)">A7F</text>
<text x="113.49" y="411.0" font-size="6.4" text-anchor="end" fill="#222" transform="rotate(-90 113.49 411.0)">G6B</text>
<text x="119.11" y="411.0" font-size="6.4" text-anchor="end" fill="#222" transform="rotate(-90 119.11 411.0)">G12C</text>
<text x="124.73" y="411.0" font-size="6.4" text-anchor="end" fill="#222" transform="rotate(-90 124.73 411.0)">H9A</text>
<text x="130.35" y="411.0" font-size="6.4" text-anchor="end" fill="#222" transform="rotate(-90 130.35 411.0)">H11G</text>
<text x="135.97" y="411.0" font-size="6.4" text-anchor="end" fill="#222" transform="rotate(-90 135.97 411.0)">H11C</text>
<text x="141.59" y="411.0" font-size="6.4" text-anchor="end" fill="#222" transform="rotate(-90 141.59 411.0)">E7C</text>
<text x="147.21" y="411.0" font-size="6.4" text-anchor="end" fill="#222" transform="rotate(-90 147.21 411.0)">E01C</text>
<text x="155.25" y="411.0" font-size="6.4" text-anchor="end" fill="#222" transform="rotate(-90 155.25 411.0)">C12C</text>
<text x="160.88" y="411.0" font-size="6.4" text-anchor="end" fill="#222" transform="rotate(-90 160.88 411.0)">A12C</text>
<text x="166.51" y="411.0" font-size="6.4" text-anchor="end" fill="#222" transform="rotate(-90 166.51 411.0)">D8B</text>
<text x="172.14" y="411.0" font-size="6.4" text-anchor="end" fill="#222" transform="rotate(-90 172.14 411.0)">D12C</text>
<text x="177.77" y="411.0" font-size="6.4" text-anchor="end" fill="#222" transform="rotate(-90 177.77 411.0)">H10C</text>
<text x="183.4" y="411.0" font-size="6.4" text-anchor="end" fill="#222" transform="rotate(-90 183.4 411.0)">C8B</text>
<text x="189.03" y="411.0" font-size="6.4" text-anchor="end" fill="#222" transform="rotate(-90 189.03 411.0)">G10A</text>
<text x="194.66" y="411.0" font-size="6.4" text-anchor="end" fill="#222" transform="rotate(-90 194.66 411.0)">A8A</text>
<text x="200.29" y="411.0" font-size="6.4" text-anchor="end" fill="#222" transform="rotate(-90 200.29 411.0)">D7A</text>
<text x="205.92" y="411.0" font-size="6.4" text-anchor="end" fill="#222" transform="rotate(-90 205.92 411.0)">F9A</text>
<text x="211.55" y="411.0" font-size="6.4" text-anchor="end" fill="#222" transform="rotate(-90 211.55 411.0)">F11G</text>
<text x="217.18" y="411.0" font-size="6.4" text-anchor="end" fill="#222" transform="rotate(-90 217.18 411.0)">H8B</text>
<text x="222.81" y="411.0" font-size="6.4" text-anchor="end" fill="#222" transform="rotate(-90 222.81 411.0)">H9B</text>
<text x="228.44" y="411.0" font-size="6.4" text-anchor="end" fill="#222" transform="rotate(-90 228.44 411.0)">H8C</text>
<text x="234.07" y="411.0" font-size="6.4" text-anchor="end" fill="#222" transform="rotate(-90 234.07 411.0)">G10H</text>
<text x="239.7" y="411.0" font-size="6.4" text-anchor="end" fill="#222" transform="rotate(-90 239.7 411.0)">F10A</text>
<text x="245.33" y="411.0" font-size="6.4" text-anchor="end" fill="#222" transform="rotate(-90 245.33 411.0)">H7A</text>
<text x="250.96" y="411.0" font-size="6.4" text-anchor="end" fill="#222" transform="rotate(-90 250.96 411.0)">B8B</text>
<line x1="49.5" y1="429.2" x2="94" y2="429.2" stroke="#222" stroke-width="0.9"/>
<line x1="99" y1="429.2" x2="147" y2="429.2" stroke="#222" stroke-width="0.9"/>
<line x1="151" y1="429.2" x2="252.5" y2="429.2" stroke="#222" stroke-width="0.9"/>
<line x1="52.0" y1="407.6" x2="52.0" y2="410.0" stroke="#222" stroke-width="0.8"/>
<line x1="57.62" y1="407.6" x2="57.62" y2="410.0" stroke="#222" stroke-width="0.8"/>
<line x1="63.24" y1="407.6" x2="63.24" y2="410.0" stroke="#222" stroke-width="0.8"/>
<line x1="68.86" y1="407.6" x2="68.86" y2="410.0" stroke="#222" stroke-width="0.8"/>
<line x1="74.48" y1="407.6" x2="74.48" y2="410.0" stroke="#222" stroke-width="0.8"/>
<line x1="80.1" y1="407.6" x2="80.1" y2="410.0" stroke="#222" stroke-width="0.8"/>
<line x1="85.72" y1="407.6" x2="85.72" y2="410.0" stroke="#222" stroke-width="0.8"/>
<line x1="91.34" y1="407.6" x2="91.34" y2="410.0" stroke="#222" stroke-width="0.8"/>
<line x1="100.0" y1="407.6" x2="100.0" y2="410.0" stroke="#222" stroke-width="0.8"/>
<line x1="105.62" y1="407.6" x2="105.62" y2="410.0" stroke="#222" stroke-width="0.8"/>
<line x1="111.24" y1="407.6" x2="111.24" y2="410.0" stroke="#222" stroke-width="0.8"/>
<line x1="116.86" y1="407.6" x2="116.86" y2="410.0" stroke="#222" stroke-width="0.8"/>
<line x1="122.48" y1="407.6" x2="122.48" y2="410.0" stroke="#222" stroke-width="0.8"/>
<line x1="128.1" y1="407.6" x2="128.1" y2="410.0" stroke="#222" stroke-width="0.8"/>
<line x1="133.72" y1="407.6" x2="133.72" y2="410.0" stroke="#222" stroke-width="0.8"/>
<line x1="139.34" y1="407.6" x2="139.34" y2="410.0" stroke="#222" stroke-width="0.8"/>
<line x1="144.96" y1="407.6" x2="144.96" y2="410.0" stroke="#222" stroke-width="0.8"/>
<line x1="153.0" y1="407.6" x2="153.0" y2="410.0" stroke="#222" stroke-width="0.8"/>
<line x1="158.63" y1="407.6" x2="158.63" y2="410.0" stroke="#222" stroke-width="0.8"/>
<line x1="164.26" y1="407.6" x2="164.26" y2="410.0" stroke="#222" stroke-width="0.8"/>
<line x1="169.89" y1="407.6" x2="169.89" y2="410.0" stroke="#222" stroke-width="0.8"/>
<line x1="175.52" y1="407.6" x2="175.52" y2="410.0" stroke="#222" stroke-width="0.8"/>
<line x1="181.15" y1="407.6" x2="181.15" y2="410.0" stroke="#222" stroke-width="0.8"/>
<line x1="186.78" y1="407.6" x2="186.78" y2="410.0" stroke="#222" stroke-width="0.8"/>
<line x1="192.41" y1="407.6" x2="192.41" y2="410.0" stroke="#222" stroke-width="0.8"/>
<line x1="198.04" y1="407.6" x2="198.04" y2="410.0" stroke="#222" stroke-width="0.8"/>
<line x1="203.67" y1="407.6" x2="203.67" y2="410.0" stroke="#222" stroke-width="0.8"/>
<line x1="209.3" y1="407.6" x2="209.3" y2="410.0" stroke="#222" stroke-width="0.8"/>
<line x1="214.93" y1="407.6" x2="214.93" y2="410.0" stroke="#222" stroke-width="0.8"/>
<line x1="220.56" y1="407.6" x2="220.56" y2="410.0" stroke="#222" stroke-width="0.8"/>
<line x1="226.19" y1="407.6" x2="226.19" y2="410.0" stroke="#222" stroke-width="0.8"/>
<line x1="231.82" y1="407.6" x2="231.82" y2="410.0" stroke="#222" stroke-width="0.8"/>
<line x1="237.45" y1="407.6" x2="237.45" y2="410.0" stroke="#222" stroke-width="0.8"/>
<line x1="243.08" y1="407.6" x2="243.08" y2="410.0" stroke="#222" stroke-width="0.8"/>
<line x1="248.71" y1="407.6" x2="248.71" y2="410.0" stroke="#222" stroke-width="0.8"/>
<text x="71.9" y="438.5" font-size="7.5" text-anchor="middle" fill="#111">TRBV4-3</text>
<text x="71.9" y="447.2" font-size="7.5" text-anchor="middle" fill="#111">TRBJ1-3</text>
<text x="122.6" y="438.5" font-size="7.5" text-anchor="middle" fill="#111">TRBV4-3</text>
<text x="122.6" y="447.2" font-size="7.5" text-anchor="middle" fill="#111">non-TRBJ1-3</text>
<text x="203" y="442.6" font-size="7.5" text-anchor="middle" fill="#111">non-TRBV4-3</text>
<text x="152" y="458" font-size="8.2" font-weight="bold" text-anchor="middle" fill="#000">Clone and TRBV/TRBJ usage</text>
<line x1="51.3" y1="281.0" x2="96.3" y2="281.0" stroke="#333" stroke-width="0.9"/>
<line x1="151.3" y1="281.0" x2="251" y2="281.0" stroke="#333" stroke-width="0.9"/>
<line x1="51.3" y1="295.2" x2="149" y2="295.2" stroke="#333" stroke-width="0.9"/>
<line x1="151.3" y1="295.2" x2="251" y2="295.2" stroke="#333" stroke-width="0.9"/>
<line x1="51.3" y1="308.7" x2="96.3" y2="308.7" stroke="#333" stroke-width="0.9"/>
<line x1="100.5" y1="308.7" x2="148.5" y2="308.7" stroke="#333" stroke-width="0.9"/>
<line x1="151.5" y1="308.7" x2="251" y2="308.7" stroke="#333" stroke-width="0.9"/>
<path d="M93.50,279.60 Q93.50,276.90 96.00,276.90 L122.10,276.90 Q124.60,276.90 124.60,274.30 Q124.60,276.90 127.10,276.90 L153.00,276.90 Q155.50,276.90 155.50,279.60" fill="none" stroke="#a8a8a8" stroke-width="0.8"/>
<path d="M119.50,294.40 Q119.50,292.20 122.00,292.20 L147.00,292.20 Q149.50,292.20 149.50,289.70 Q149.50,292.20 152.00,292.20 L177.50,292.20 Q180.00,292.20 180.00,294.40" fill="none" stroke="#a8a8a8" stroke-width="0.8"/>
<path d="M86.00,307.60 Q86.00,305.40 88.50,305.40 L96.30,305.40 Q98.80,305.40 98.80,303.20 Q98.80,305.40 101.30,305.40 L109.50,305.40 Q112.00,305.40 112.00,307.60" fill="none" stroke="#a8a8a8" stroke-width="0.8"/>
<path d="M137.00,307.60 Q137.00,305.40 139.50,305.40 L147.10,305.40 Q149.60,305.40 149.60,303.20 Q149.60,305.40 152.10,305.40 L160.50,305.40 Q163.00,305.40 163.00,307.60" fill="none" stroke="#a8a8a8" stroke-width="0.8"/>
<text x="124.3" y="274.2" font-size="7.5" text-anchor="middle" fill="#444">***</text>
<text x="150" y="289.2" font-size="7.5" text-anchor="middle" fill="#444">**</text>
<text x="98.6" y="302.8" font-size="7.5" text-anchor="middle" fill="#444">**</text>
<text x="150" y="302.6" font-size="6.3" text-anchor="middle" fill="#222">NS</text>
<line x1="369.5" y1="305.5" x2="369.5" y2="416.3" stroke="#666" stroke-width="1.3"/>
<line x1="368.85" y1="416.3" x2="442.5" y2="416.3" stroke="#666" stroke-width="1.3"/>
<text x="365.3" y="332.5" font-size="8" font-weight="bold" text-anchor="middle" fill="#000" transform="rotate(-90 365.3 332.5)">14</text>
<text x="365.3" y="387" font-size="8" font-weight="bold" text-anchor="middle" fill="#000" transform="rotate(-90 365.3 387)">others</text>
<text x="349.9" y="362.2" font-size="8.3" font-weight="bold" text-anchor="middle" fill="#000" transform="rotate(-90 349.9 362.2)">TRAV usage</text>
<text x="387.5" y="427.8" font-size="8.2" font-weight="bold" text-anchor="middle" fill="#000">4-3</text>
<text x="424.3" y="427.8" font-size="8.2" font-weight="bold" text-anchor="middle" fill="#000">others</text>
<text x="409.4" y="446.2" font-size="8.3" font-weight="bold" text-anchor="middle" fill="#000">TRBV usage</text>
<circle cx="381.75" cy="329.3" r="2.5" fill="#000"/>
<circle cx="381.75" cy="335.5" r="2.4" fill="#fff" stroke="#222" stroke-width="0.9"/>
<circle cx="388.25" cy="329.3" r="2.5" fill="#000"/>
<circle cx="388.25" cy="335.5" r="2.4" fill="#fff" stroke="#222" stroke-width="0.9"/>
<circle cx="394.75" cy="329.3" r="2.5" fill="#000"/>
<circle cx="394.75" cy="335.5" r="2.4" fill="#fff" stroke="#222" stroke-width="0.9"/>
<circle cx="387.5" cy="388.8" r="2.3" fill="#fff" stroke="#222" stroke-width="0.9"/>
<path d="M421.3,330.6 L423.7,333 L421.3,335.4 L418.90000000000003,333 Z" fill="#fff" stroke="#222" stroke-width="0.9"/>
<path d="M427.6,330.6 L430.0,333 L427.6,335.4 L425.20000000000005,333 Z" fill="#fff" stroke="#222" stroke-width="0.9"/>
<path d="M418,381.40000000000003 L420.4,383.8 L418,386.2 L415.6,383.8 Z" fill="#fff" stroke="#222" stroke-width="0.9"/>
<path d="M418,386.5 L420.4,388.9 L418,391.29999999999995 L415.6,388.9 Z" fill="#fff" stroke="#222" stroke-width="0.9"/>
<path d="M418,391.6 L420.4,394 L418,396.4 L415.6,394 Z" fill="#fff" stroke="#222" stroke-width="0.9"/>
<path d="M424.6,381.40000000000003 L427.0,383.8 L424.6,386.2 L422.20000000000005,383.8 Z" fill="#fff" stroke="#222" stroke-width="0.9"/>
<path d="M424.6,386.5 L427.0,388.9 L424.6,391.29999999999995 L422.20000000000005,388.9 Z" fill="#fff" stroke="#222" stroke-width="0.9"/>
<path d="M424.6,391.6 L427.0,394 L424.6,396.4 L422.20000000000005,394 Z" fill="#fff" stroke="#222" stroke-width="0.9"/>
<path d="M431.2,381.40000000000003 L433.59999999999997,383.8 L431.2,386.2 L428.8,383.8 Z" fill="#fff" stroke="#222" stroke-width="0.9"/>
<path d="M431.2,386.5 L433.59999999999997,388.9 L431.2,391.29999999999995 L428.8,388.9 Z" fill="#fff" stroke="#222" stroke-width="0.9"/>
<path d="M431.2,391.6 L433.59999999999997,394 L431.2,396.4 L428.8,394 Z" fill="#fff" stroke="#222" stroke-width="0.9"/>
<path d="M386.30,310.40 Q386.30,308.00 388.80,308.00 L401.30,308.00 Q403.80,308.00 403.80,305.60 Q403.80,308.00 406.30,308.00 L419.50,308.00 Q422.00,308.00 422.00,310.40" fill="none" stroke="#aaa" stroke-width="1.0"/>
<text x="404.3" y="304.6" font-size="7.5" text-anchor="middle" fill="#555">**</text>
</svg>
</body>
</html>
